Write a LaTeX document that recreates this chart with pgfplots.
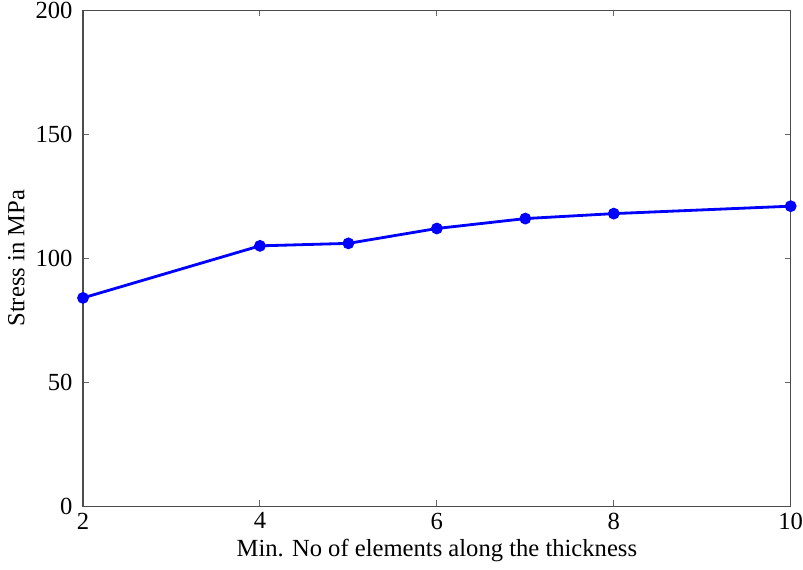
\documentclass[border=0pt]{standalone}
\usepackage{pgfplots}
\pgfplotsset{compat=1.18}
\usepackage{fontspec}
\setmainfont{Liberation Serif}
\begin{document}
\fontsize{12.3}{14}\selectfont
\begin{tikzpicture}
\begin{axis}[
  scale only axis,
  width=352.5bp, height=247bp,
  xmin=2, xmax=10, ymin=0, ymax=200,
  xtick={2,4,6,8,10}, ytick={0,50,100,150,200},
  xticklabels={2,4,6,8,10}, yticklabels={0,50,100,150,200},
  tick align=inside,
  major tick length=3bp,
  axis line style={draw=black!70, line width=0.6pt},
  every tick/.style={draw=black!60, line width=0.5pt},
  tick label style={font=\fontsize{12.3}{14}\selectfont},
  label style={font=\fontsize{12.3}{14}\selectfont},
  xticklabel style={yshift=1bp, inner xsep=0pt},
  yticklabel style={inner ysep=1bp, xshift=-1bp},
  xlabel={Min. No of elements along the thickness},
  ylabel={Stress in MPa},
  xlabel style={yshift=3.5bp},
  ylabel style={yshift=-3bp},
]
\addplot[color={rgb,255:red,0;green,0;blue,255}, line width=1.4bp, mark=*, mark size=2.2bp, mark options={solid, fill={rgb,255:red,0;green,0;blue,255}}]
coordinates {(2,84) (4,105) (5,106) (6,112) (7,116) (8,118) (10,121)};
\end{axis}
\end{tikzpicture}
\end{document}
